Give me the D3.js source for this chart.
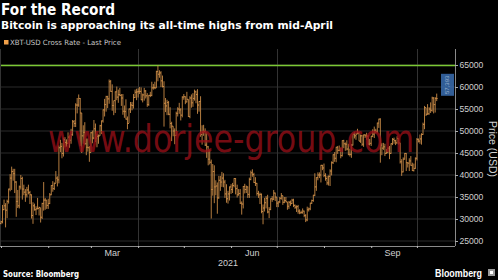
<!DOCTYPE html>
<html><head><meta charset="utf-8">
<script src="https://cdn.jsdelivr.net/npm/d3@7"></script>
<style>html,body{margin:0;padding:0;background:#000;}svg{display:block;}</style>
</head><body>
<svg id="c" width="498" height="280"></svg>
<script>
// ---- DATA (thousand USD, daily from 2021-01-01) ----
const startDate = "2021-01-01";
const closes = [
29.37,32.13,33.0,32.0,34.0,36.8,39.3,40.8,40.3,38.4,34.0,33.0,37.3,39.2,36.8,36.1,35.5,36.6,36.0,35.5,30.8,33.0,32.1,32.3,32.4,32.6,30.4,33.5,34.3,34.3,33.1,
33.5,35.5,37.6,36.9,38.1,39.3,38.9,46.2,46.5,44.9,48.0,47.4,47.2,48.6,47.9,49.2,52.1,51.7,55.9,55.9,57.4,54.1,48.9,49.7,47.1,46.3,46.2,45.1,
49.6,48.4,50.5,48.4,48.8,48.9,51.2,52.3,54.8,56.0,57.8,57.3,61.2,59.0,55.8,56.9,58.9,57.7,58.3,58.1,57.5,54.5,54.4,52.7,51.7,55.0,55.9,55.8,57.6,58.8,58.9,
59.0,59.0,57.1,58.2,59.1,58.0,56.0,58.1,58.1,59.8,59.9,59.8,63.5,62.9,63.2,61.4,60.1,56.3,55.7,56.5,53.8,51.7,51.1,50.0,49.0,54.0,55.0,54.8,53.6,57.7,
57.8,56.6,57.2,53.3,57.5,56.4,57.4,58.9,58.3,55.9,56.7,49.2,49.7,49.9,46.8,46.4,43.6,42.9,36.7,40.8,37.3,37.5,34.8,38.8,38.4,39.3,38.4,35.7,34.6,35.7,37.3,
36.7,37.6,39.2,36.9,35.5,35.8,33.6,33.4,37.4,36.7,37.3,35.6,39.0,40.5,40.1,38.3,38.1,35.8,35.5,35.6,31.7,32.5,33.7,34.7,31.6,32.2,34.6,34.5,35.9,35.0,
33.6,33.9,34.7,35.3,33.8,34.2,33.9,32.9,33.8,33.5,34.3,33.1,32.7,32.8,31.8,31.4,31.5,31.8,30.8,29.8,32.1,32.3,33.6,34.2,35.4,37.3,39.4,40.0,40.0,42.2,41.6,
39.9,39.2,38.2,39.7,40.9,42.8,44.6,43.8,46.3,45.6,45.6,44.4,47.8,47.1,47.0,45.9,44.7,44.7,46.8,49.3,48.9,49.3,49.5,47.7,48.9,47.0,49.1,48.9,48.8,47.0,47.2,
48.8,49.3,50.0,49.9,51.8,52.7,46.8,46.1,46.4,44.9,45.2,46.1,44.9,47.1,48.1,47.8,47.3,48.3,47.3,43.0,40.7,43.6,44.9,42.8,42.7,43.2,42.2,41.0,41.5,43.8,
48.1,47.7,48.2,49.2,51.5,55.3,53.8,53.9,55.0,54.7,57.5,56.0,57.4,57.4];
const highs = [
29.6,33.2,34.4,33.6,34.4,36.9,40.2,41.9,41.4,41.4,38.6,36.6,37.6,40.0,39.6,37.8,36.8,37.3,37.8,36.4,35.6,33.8,33.5,32.9,34.8,32.8,32.5,33.7,38.4,34.8,34.3,
34.6,35.9,37.7,38.6,38.3,40.9,39.7,46.7,48.0,47.3,48.5,48.6,48.1,49.7,49.0,50.5,52.5,52.5,56.3,57.5,58.3,57.5,54.1,51.3,52.0,48.3,48.3,46.6,
49.8,50.1,52.5,51.7,49.4,49.2,51.4,52.4,54.9,57.3,58.0,58.0,61.7,61.6,60.6,56.9,59.0,60.1,59.4,59.8,58.4,58.4,55.8,57.2,53.3,55.1,56.6,56.6,58.4,59.4,59.6,
59.7,60.0,59.9,58.5,59.8,59.3,58.6,58.2,58.9,61.2,60.7,61.2,63.7,64.9,63.8,63.6,62.6,61.3,57.5,57.1,56.8,55.4,52.1,51.1,50.6,54.4,55.4,56.4,55.2,57.9,
58.4,57.9,58.9,57.2,57.9,58.3,58.6,59.4,59.2,59.5,56.8,57.9,51.3,51.4,50.6,49.7,46.6,45.8,43.5,42.5,42.2,38.8,38.3,39.8,39.8,40.7,40.4,38.9,37.9,36.4,37.4,
37.9,38.2,39.3,39.3,37.8,36.8,36.8,34.0,37.5,38.0,37.6,37.4,39.4,41.0,41.3,40.5,39.5,38.2,36.4,36.0,35.8,33.3,34.8,35.2,35.5,32.7,34.7,35.2,36.6,36.0,
35.0,34.0,35.0,35.9,35.3,35.0,35.0,33.9,34.1,34.2,34.6,34.6,33.3,33.1,33.2,32.2,31.9,32.4,31.9,31.1,32.8,32.6,33.7,34.4,35.5,40.4,39.5,40.6,40.6,42.3,42.3,
42.6,40.4,39.8,39.9,41.3,43.1,44.7,45.2,46.4,46.6,46.7,46.2,47.9,48.0,47.4,47.9,47.1,46.0,47.0,49.4,49.7,49.5,50.5,49.8,49.2,49.1,49.2,49.3,49.6,49.1,48.2,
48.9,50.4,51.0,50.5,51.9,52.8,52.9,47.3,47.3,47.1,45.9,46.3,46.6,47.2,48.4,48.5,48.0,48.8,48.3,47.3,43.6,44.0,45.0,45.0,42.9,43.8,44.3,42.8,42.6,44.0,
48.4,48.3,49.2,49.5,51.9,55.7,55.3,56.1,55.4,56.5,57.8,57.7,57.7,58.5];
const lows = [
28.8,29.0,32.0,28.1,30.2,33.5,36.3,36.6,38.7,35.9,30.5,32.5,32.4,36.7,34.4,35.4,33.9,34.9,35.6,33.4,30.1,28.9,31.9,30.9,32.2,30.8,29.2,30.0,31.9,32.1,32.3,
32.3,33.4,35.4,36.2,36.6,38.2,37.4,38.1,45.2,43.8,44.2,46.3,46.4,47.1,46.2,47.1,48.9,50.9,50.9,54.0,55.5,46.6,45.0,47.1,46.9,44.5,45.3,43.0,
45.1,47.2,48.1,47.5,46.3,47.1,48.9,49.3,51.9,53.3,54.4,55.2,56.2,58.9,54.6,53.6,54.1,57.0,56.4,57.9,55.7,53.7,53.0,52.6,50.4,51.8,54.1,54.7,55.1,57.5,57.0,
57.6,58.4,57.0,56.5,56.9,57.4,55.5,55.7,57.7,57.9,59.4,59.5,59.8,61.3,62.1,60.0,59.9,51.0,54.3,53.6,53.6,50.6,47.7,48.8,47.0,48.9,53.3,53.9,52.4,53.1,
57.1,56.1,56.5,53.2,52.9,55.3,55.5,56.9,56.3,53.9,54.4,48.7,46.9,48.9,46.6,43.9,42.2,42.4,30.1,35.3,33.6,35.4,31.2,34.6,36.4,37.3,37.2,34.8,33.7,33.5,34.2,
35.7,35.9,37.2,35.6,34.9,35.3,33.4,31.0,32.4,35.8,35.9,34.8,34.8,38.8,39.6,38.2,37.5,35.3,34.8,33.4,31.3,28.8,31.7,32.4,31.3,30.2,32.0,33.9,34.3,34.1,
32.7,32.7,33.6,34.4,33.2,33.6,33.8,32.1,32.3,33.0,33.4,32.7,32.3,31.6,31.2,31.1,31.2,31.2,30.4,29.3,29.5,31.7,32.0,33.4,33.9,35.2,36.4,38.8,39.3,38.3,41.1,
39.5,38.7,37.7,37.6,37.5,39.9,42.5,43.0,42.9,44.8,45.4,43.8,44.2,46.1,45.5,45.6,44.5,44.2,43.9,46.7,48.3,48.0,49.3,47.7,47.3,46.6,46.4,48.4,48.0,46.9,46.7,
46.6,48.6,48.4,49.5,49.5,50.7,42.8,44.5,45.7,44.3,44.8,44.9,43.6,44.8,46.8,47.1,46.8,47.1,46.9,42.6,39.8,40.6,43.5,40.9,41.7,40.9,42.1,40.9,40.8,41.4,
43.3,47.4,47.1,46.9,49.1,50.4,53.4,53.7,53.7,54.1,54.4,54.0,54.2,56.8];
const firstOpen = 28.99;
const allTimeHigh = 64.9;           // mid-April record
const lastPriceLabel = "57,393";
const yTicks = [25000,30000,35000,40000,45000,50000,55000,60000,65000];
const monthLabels = ["Mar","Jun","Sep"];
const yearLabel = "2021";

// ---- LAYOUT ----
const svg = d3.select("#c");
const L = 1, R = 455, T = 49, B = 246;
const parse = d3.timeParse("%Y-%m-%d");
const d0 = parse(startDate);
const dates = closes.map((c,i)=>d3.timeDay.offset(d0,i));
const data = dates.map((d,i)=>({date:d, open:(i?closes[i-1]:firstOpen)*1000, high:highs[i]*1000, low:lows[i]*1000, close:closes[i]*1000}));

const x = d3.scaleTime().domain([d0, parse("2021-10-26")]).range([L, R]);
const y = d3.scaleLinear().domain([25000,65000]).range([241,65]);

// gridlines
const g = svg.append("g");
g.selectAll("line.hg").data(yTicks).join("line")
  .attr("x1",L).attr("x2",R).attr("y1",d=>y(d)).attr("y2",d=>y(d))
  .attr("stroke","#2b2b2b").attr("stroke-width",1);
const qStarts = [parse("2021-04-01"),parse("2021-07-01"),parse("2021-10-01")];
g.selectAll("line.vg").data(qStarts).join("line")
  .attr("x1",d=>Math.round(x(d))+0.5).attr("x2",d=>Math.round(x(d))+0.5).attr("y1",T).attr("y2",B)
  .attr("stroke","#333").attr("stroke-width",1);
g.append("line").attr("x1",0.5).attr("x2",0.5).attr("y1",T).attr("y2",B).attr("stroke","#333");

// all-time high line
svg.append("line").attr("x1",L).attr("x2",R).attr("y1",y(allTimeHigh*1000)).attr("y2",y(allTimeHigh*1000))
  .attr("stroke","#7cc934").attr("stroke-width",1.6);

// OHLC bars
const bars = svg.append("g").attr("stroke","#d4924a").attr("stroke-width",0.85);
bars.selectAll("line.hl").data(data).join("line")
  .attr("x1",d=>x(d.date)).attr("x2",d=>x(d.date))
  .attr("y1",d=>y(d.high)).attr("y2",d=>y(d.low));
bars.selectAll("line.o").data(data).join("line")
  .attr("x1",d=>x(d.date)-1).attr("x2",d=>x(d.date))
  .attr("y1",d=>y(d.open)).attr("y2",d=>y(d.open));
bars.selectAll("line.c").data(data).join("line")
  .attr("x1",d=>x(d.date)).attr("x2",d=>x(d.date)+1)
  .attr("y1",d=>y(d.close)).attr("y2",d=>y(d.close));

// watermark
svg.append("text").attr("x",48).attr("y",152)
  .attr("font-family","DejaVu Sans").attr("font-size",37)
  .attr("textLength",366).attr("lengthAdjust","spacingAndGlyphs")
  .attr("fill","#960f18").attr("fill-opacity",0.8)
  .text("www.dorjee-group.com");

// last price box
svg.append("rect").attr("x",441).attr("y",y(63000)).attr("width",13).attr("height",y(58000)-y(63000))
  .attr("fill","#3a6db0").attr("fill-opacity",0.85);
svg.append("text").attr("transform",`translate(449,${y(60500)}) rotate(-90)`)
  .attr("text-anchor","middle").attr("font-family","Liberation Sans").attr("font-size",6)
  .attr("fill","#dfe8f5").attr("fill-opacity",0.6).text(lastPriceLabel);

// axes lines
svg.append("line").attr("x1",R+0.5).attr("x2",R+0.5).attr("y1",T).attr("y2",B).attr("stroke","#8a8a8a");
svg.append("line").attr("x1",0).attr("x2",R).attr("y1",B+0.5).attr("y2",B+0.5).attr("stroke","#8a8a8a");

// y axis
const ya = svg.append("g").attr("transform",`translate(${R},0)`)
  .call(d3.axisRight(y).tickValues(yTicks).tickSize(3).tickPadding(1.5).tickFormat(d3.format("d")));
ya.select(".domain").remove();
ya.selectAll("line").attr("stroke","#aaa");
ya.selectAll("text").attr("fill","#d0d0d0").attr("font-family","Liberation Sans").attr("font-size",8.6);

// x axis month ticks
const xa = svg.append("g").attr("transform",`translate(0,${B})`)
  .call(d3.axisBottom(x).ticks(d3.timeMonth.every(1)).tickSize(2).tickFormat(""));
xa.select(".domain").remove();
xa.selectAll("line").attr("stroke","#bbb");
svg.selectAll("text.mon").data(monthLabels).join("text")
  .attr("x",m=>x(d3.timeParse("%b %d %Y")(m+" 15 2021"))).attr("y",256)
  .attr("text-anchor","middle").attr("font-family","Liberation Sans").attr("font-size",9)
  .attr("fill","#d0d0d0").text(m=>m);
svg.append("text").attr("x",(L+R)/2).attr("y",266).attr("text-anchor","middle")
  .attr("font-family","Liberation Sans").attr("font-size",9).attr("fill","#d0d0d0").text(yearLabel);

// y axis title
svg.append("text").attr("transform","translate(488.5,149) rotate(90)").attr("text-anchor","middle")
  .attr("font-family","Liberation Sans").attr("font-size",10.5).attr("fill","#d0d0d0").text("Price (USD)");

// titles
svg.append("text").attr("x",1).attr("y",15).attr("font-family","DejaVu Sans").attr("font-weight","bold")
  .attr("font-size",15).attr("fill","#fff").attr("textLength",114).attr("lengthAdjust","spacingAndGlyphs").text("For the Record");
svg.append("text").attr("x",1).attr("y",28.5).attr("font-family","DejaVu Sans").attr("font-weight","bold")
  .attr("font-size",10.5).attr("fill","#fff").attr("textLength",332).attr("lengthAdjust","spacingAndGlyphs")
  .text("Bitcoin is approaching its all-time highs from mid-April");
// legend
svg.append("rect").attr("x",4).attr("y",40).attr("width",4.5).attr("height",4.5).attr("fill","#f0a04a");
svg.append("text").attr("x",10).attr("y",44.5).attr("font-family","DejaVu Sans").attr("font-size",7.2)
  .attr("fill","#c8c8c8").attr("textLength",111).attr("lengthAdjust","spacingAndGlyphs").text("XBT-USD Cross Rate - Last Price");

// footer
svg.append("text").attr("x",3).attr("y",277).attr("font-family","DejaVu Sans").attr("font-weight","bold")
  .attr("font-size",8).attr("fill","#fff").attr("textLength",76).attr("lengthAdjust","spacingAndGlyphs").text("Source: Bloomberg");
svg.append("text").attr("x",435).attr("y",277).attr("font-family","Liberation Sans").attr("font-weight","bold")
  .attr("font-size",11).attr("fill","#fff").attr("textLength",47).attr("lengthAdjust","spacingAndGlyphs").text("Bloomberg");
svg.append("rect").attr("x",488).attr("y",269).attr("width",7).attr("height",7).attr("fill","#9a9a9a");
svg.append("rect").attr("x",490).attr("y",271).attr("width",3).attr("height",3).attr("fill","#fff");
</script>
</body></html>
